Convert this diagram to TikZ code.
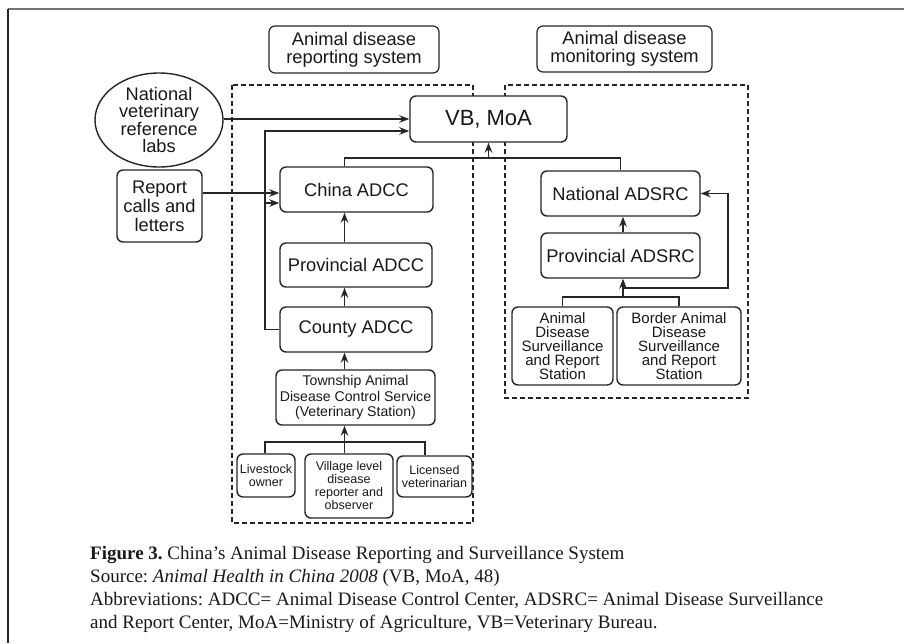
\documentclass[tikz,border=0pt]{standalone}
\usepackage{fontspec}
\setmainfont{Liberation Serif}
\newfontfamily\arialf{Liberation Sans}
\usetikzlibrary{arrows.meta,calc,shapes.geometric}
\frenchspacing
\begin{document}
\begin{tikzpicture}[x=1pt,y=-1pt,
  box/.style={draw=black!85, fill=white, rounded corners=6pt, line width=1.4pt, align=center, inner sep=0pt, text=black!90,
    font=\arialf\fontsize{18.3}{18}\selectfont},
  smallbox/.style={box, font=\arialf\fontsize{12.5}{13}\selectfont},
  stbox/.style={box, font=\arialf\fontsize{15}{14}\selectfont},
  dbox/.style={draw=black!85, line width=1.2pt, dash pattern=on 5pt off 3pt},
  conn/.style={draw=black!85, line width=1.5pt},
  arr/.style={conn, -{Stealth[length=10pt,width=7.5pt]}},
  captext/.style={anchor=base west, inner sep=0pt, font=\fontsize{19}{22}\selectfont, text=black!90}
]
\useasboundingbox (0,0) rectangle (904,643);
\fill[white] (0,0) rectangle (904,643);
% frame of the crop
\draw[black!55, line width=2pt] (8,9) -- (904,9);
\draw[black!85, line width=1.5pt] (8,9) -- (8,643);

% dashed system frames
\draw[dbox] (232,85) rectangle (473,523);
\draw[dbox] (505,85) rectangle (748,398);

% headers
\node[box, line width=1.2pt, minimum width=170pt, minimum height=47pt] (hdrL) at (354,49.5) {Animal disease\\reporting system};
\node[box, line width=1.2pt, minimum width=175pt, minimum height=46pt] (hdrR) at (624.5,49) {Animal disease\\monitoring system};

% left column
\node[draw=black!85, fill=white, line width=1.4pt, ellipse, inner sep=0pt, minimum width=128pt, minimum height=94pt, align=center, text=black!90,
  font=\arialf\fontsize{18.2}{17.5}\selectfont] (labs) at (159,120) {National\\veterinary\\reference\\labs};
\node[box, font=\arialf\fontsize{18.3}{19}\selectfont, minimum width=85pt, minimum height=72pt] (report) at (159.5,206) {Report\\calls and\\letters};

\node[box, font=\arialf\fontsize{22}{22}\selectfont, minimum width=157pt, minimum height=46pt] (vb) at (488.5,119) {VB, MoA};
\node[box, minimum width=153pt, minimum height=45pt] (china) at (356.5,189.5) {China ADCC};
\node[box, minimum width=152pt, minimum height=44pt] (provA) at (356,265) {Provincial ADCC};
\node[box, minimum width=152pt, minimum height=45pt] (county) at (356,329.5) {County ADCC};
\node[box, font=\arialf\fontsize{14.1}{15.5}\selectfont, minimum width=159pt, minimum height=55pt] (town) at (355.5,397.5) {Township Animal\\Disease Control Service\\(Veterinary Station)};
\node[smallbox, minimum width=58pt, minimum height=43pt] (live) at (266,475.5) {Livestock\\owner};
\node[smallbox, minimum width=88pt, minimum height=64pt] (village) at (349,486) {Village level\\disease\\reporter and\\observer};
\node[smallbox, minimum width=75pt, minimum height=41pt] (lic) at (434.5,476.5) {Licensed\\veterinarian};

% right column
\node[box, minimum width=159pt, minimum height=45pt] (natS) at (620.5,193.5) {National ADSRC};
\node[box, minimum width=159pt, minimum height=45pt] (provS) at (620.5,255.5) {Provincial ADSRC};
\node[stbox, minimum width=101pt, minimum height=78pt] (stA) at (562.5,346) {Animal\\Disease\\Surveillance\\and Report\\Station};
\node[stbox, minimum width=124pt, minimum height=78pt] (stB) at (679,346) {Border Animal\\Disease\\Surveillance\\and Report\\Station};

% helper coordinates
\coordinate (xa) at (344.5,0);
\coordinate (xl) at (265,0);
\coordinate (xr) at (425,0);
\coordinate (xs) at (623,0);
\coordinate (xk) at (728,0);
\coordinate (ytop) at (0,158);
\coordinate (yvb) at (0,131);
\coordinate (ybr) at (0,203);
\coordinate (yrep) at (0,193);
\coordinate (ybot) at (0,442);
\coordinate (yst) at (0,297);
\coordinate (ybr2) at (0,288);

% connectors, reporting system
\draw[arr] (labs.east |- vb.west) -- (vb.west);
\draw[arr] (county.west) -- (county.west -| xl) -- (xl |- yvb) -- (vb.west |- yvb);
\draw[arr] (xl |- ybr) -- (china.west |- ybr);
\draw[arr] (report.east |- yrep) -- (china.west |- yrep);
\draw[conn] (china.north -| xa) -- (xa |- ytop) -- (natS.north |- ytop) -- (natS.north);
\draw[arr] (vb.south |- ytop) -- (vb.south);
\draw[arr] (provA.north -| xa) -- (china.south -| xa);
\draw[arr] (county.north -| xa) -- (provA.south -| xa);
\draw[arr] (town.north -| xa) -- (county.south -| xa);
\draw[conn] (live.north -| xl) -- (xl |- ybot) -- (xr |- ybot) -- (lic.north -| xr);
\draw[arr] (village.north -| xa) -- (town.south -| xa);

% connectors, monitoring system
\draw[arr] (provS.north -| xs) -- (natS.south -| xs);
\draw[conn] (stA.north) -- (stA.north |- yst) -- (stB.north |- yst) -- (stB.north);
\draw[arr] (xs |- yst) -- (provS.south -| xs);
\draw[arr] (xs |- ybr2) -- (xk |- ybr2) -- (xk |- natS.east) -- (natS.east);

% caption
\node[captext] (c1) at (90,559) {\textbf{Figure 3.} China’s Animal Disease Reporting and Surveillance System};
\node[captext] (c2) at (90,582) {Source: \textit{Animal Health in China 2008} (VB, MoA, 48)};
\node[captext] (c3) at (90,605) {Abbreviations: ADCC= Animal Disease Control Center, ADSRC= Animal Disease Surveillance};
\node[captext] (c4) at (90,628) {and Report Center, MoA=Ministry of Agriculture, VB=Veterinary Bureau.};
\end{tikzpicture}
\end{document}
